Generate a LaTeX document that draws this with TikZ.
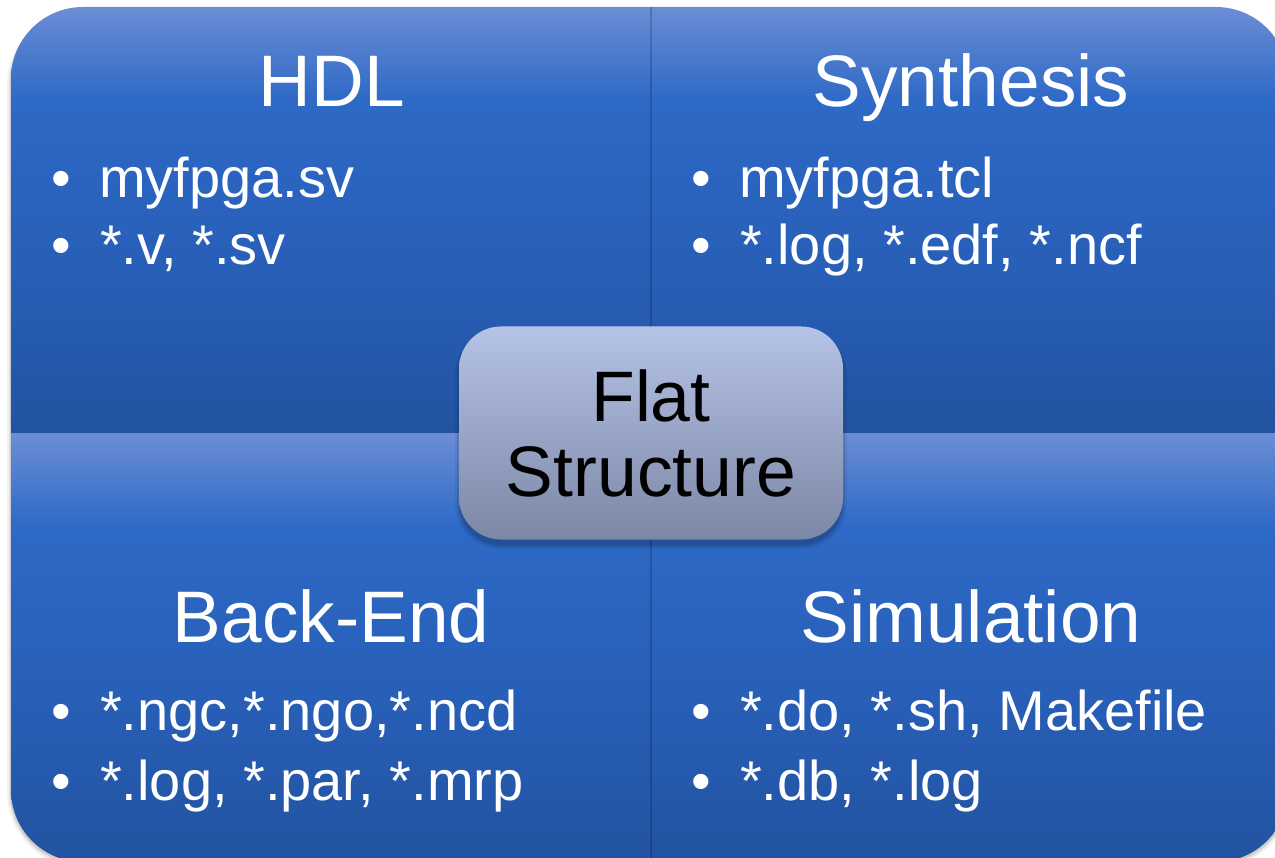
\documentclass[tikz,border=0pt]{standalone}
\usepackage{fontspec}
\setmainfont{Liberation Sans}
\definecolor{qtop}{HTML}{6B8DD5}
\definecolor{qmid}{HTML}{2D69C6}
\definecolor{qmidb}{HTML}{285FB8}
\definecolor{qbot}{HTML}{2253A0}
\definecolor{coretop}{HTML}{B5C3E6}
\definecolor{corebot}{HTML}{7C87A6}
\pgfdeclareverticalshading{quadshade}{100bp}{color(0bp)=(qbot); color(25bp)=(qbot); color(45bp)=(qmidb); color(64bp)=(qmid); color(75bp)=(qtop); color(100bp)=(qtop)}
\begin{document}
\begin{tikzpicture}[x=1pt,y=-1pt,
  title/.style={anchor=base,text=white,inner sep=0pt,font=\fontsize{73}{80}\selectfont},
  bul/.style={anchor=base,text=white,inner sep=0pt,font=\fontsize{56}{60}\selectfont},
  item/.style={anchor=base west,text=white,inner sep=0pt,font=\fontsize{56}{60}\selectfont},
  corebox/.style={rounded corners=42pt,minimum width=384pt,minimum height=213pt,
    top color=coretop,bottom color=corebot,inner sep=0pt,align=center,text=black,
    font=\fontsize{71.5}{75}\selectfont},
  quad/.style={shading=quadshade},
  divline/.style={draw=black,opacity=0.18,line width=1.5pt}]
\useasboundingbox (0,0) rectangle (1275,858);
\clip (0,0) rectangle (1275,858);
% outer shadow
\fill[black,opacity=0.05,rounded corners=76pt] (7,9) rectangle (1292,868);
\fill[black,opacity=0.07,rounded corners=74pt] (9,9) rectangle (1290,866);
\fill[black,opacity=0.09,rounded corners=72pt] (10,9) rectangle (1289,864);
% quadrants
\begin{scope}
  \clip[rounded corners=72pt] (11,7) rectangle (1288,862);
  \shade[quad] (11,7) rectangle (651,434);
  \shade[quad] (651,7) rectangle (1288,434);
  \shade[quad] (11,434) rectangle (651,862);
  \shade[quad] (651,434) rectangle (1288,862);
  \draw[divline] (651,7) -- (651,862);
\end{scope}
% centre box shadow
\fill[black,opacity=0.06,rounded corners=46pt] (455,328) rectangle (847,549);
\fill[black,opacity=0.08,rounded corners=44pt] (457,328) rectangle (845,547);
\fill[black,opacity=0.10,rounded corners=42pt] (459,328) rectangle (843,545);
\node[corebox] (core) at (651,433) {Flat\\Structure};
% titles
\node[title] (hdl) at (332,107) {HDL};
\node[title] (syn) at (971,107) {Synthesis};
\node[title] (be) at (331,642) {Back-End};
\node[title] (sim) at (971,642) {Simulation};
% HDL items
\node[bul] (hb1) at (61,198) {•};
\node[item] (hi1) at (99,198) {myfpga.sv};
\node[bul] (hb2) at (61,265) {•};
\node[item] (hi2) at (100,265) {*.v, *.sv};
% Synthesis items
\node[bul] (sb1) at (701,198) {•};
\node[item] (si1) at (739,198) {myfpga.tcl};
\node[bul] (sb2) at (701,265) {•};
\node[item] (si2) at (740,265) {*.log, *.edf, *.ncf};
% Back-End items
\node[bul] (bb1) at (61,730) {•};
\node[item] (bi1) at (100,730) {*.ngc,*.ngo,*.ncd};
\node[bul] (bb2) at (61,800) {•};
\node[item] (bi2) at (100,800) {*.log, *.par, *.mrp};
% Simulation items
\node[bul] (mb1) at (701,730) {•};
\node[item] (mi1) at (740,730) {*.do, *.sh, Makefile};
\node[bul] (mb2) at (701,800) {•};
\node[item] (mi2) at (740,800) {*.db, *.log};
\end{tikzpicture}
\end{document}
